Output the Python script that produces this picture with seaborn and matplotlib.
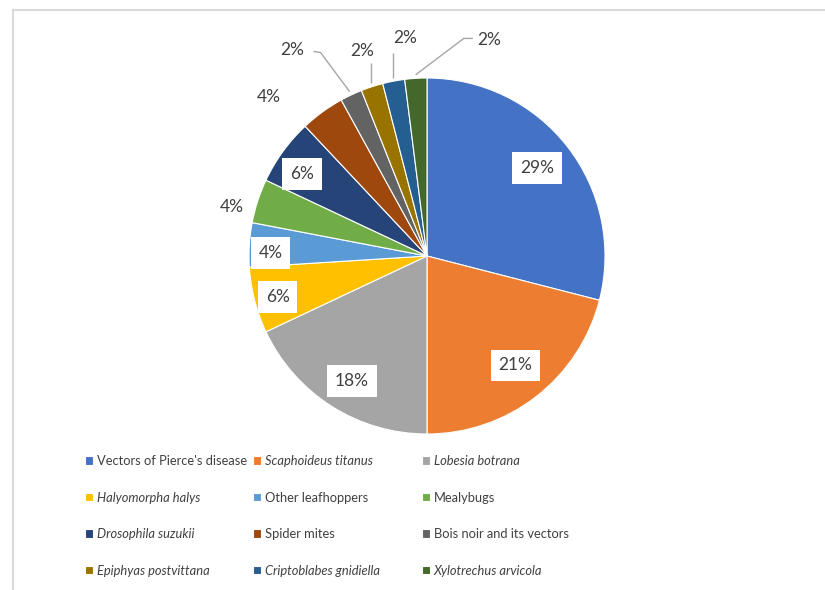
import numpy as np
import matplotlib.pyplot as plt
import seaborn as sns
from matplotlib.lines import Line2D
from matplotlib.legend import Legend

categories = ["Vectors of Pierce's disease", "Scaphoideus titanus", "Lobesia botrana",
              "Halyomorpha halys", "Other leafhoppers", "Mealybugs",
              "Drosophila suzukii", "Spider mites", "Bois noir and its vectors",
              "Epiphyas postvittana", "Criptoblabes gnidiella", "Xylotrechus arvicola"]
shares = [29, 21, 18, 6, 4, 4, 6, 4, 2, 2, 2, 2]
italic_names = [False, True, True, True, False, False, True, False, False, True, True, True]
colors = ['#4472C4', '#ED7D31', '#A5A5A5', '#FFC000', '#5B9BD5', '#70AD47',
          '#264478', '#9E480E', '#636363', '#997300', '#255E91', '#43682B']

sns.set_theme(style='white')
plt.rcParams['font.family'] = ['Lato', 'DejaVu Sans']

W, H = 825, 590
CX, CY, R = 427, 256, 178   # pie centre / radius in pixels

# label placement: (angle offset deg, radius factor, boxed)
layout = [(0.9, 0.79, True), (1.1, 0.79, True), (1.4, 0.82, True), (1.0, 0.87, True),
          (2.5, 0.88, True), (4.0, 1.13, False), (2.7, 0.84, True), (9.0, 1.26, False),
          (8.0, 1.38, False), (-0.5, 1.21, False), (-5.0, 1.23, False), (-19.6, 1.26, False)]

fig = plt.figure(figsize=(W / 100, H / 100), dpi=100)
ax = fig.add_axes([0, 0, 1, 1])
wedges, _ = ax.pie(shares, colors=sns.color_palette(colors), startangle=90, counterclock=False,
                   radius=1, wedgeprops=dict(edgecolor='white', linewidth=0.8))
ax.set_xlim(-CX / R, (W - CX) / R)
ax.set_ylim(-(H - CY) / R, CY / R)
ax.axis('off')

def polar(ang, r):
    a = np.deg2rad(ang)
    return np.array([r * np.cos(a), r * np.sin(a)])

px = 1.0 / R
lead_kw = dict(color='#a6a6a6', lw=1.0, solid_capstyle='butt')
for i, (w, v) in enumerate(zip(wedges, shares)):
    mid = (w.theta1 + w.theta2) / 2
    dang, rf, boxed = layout[i]
    tx, ty = polar(mid + dang, rf)
    kw = dict(ha='center', va='center', fontsize=12.5, color='#404040')
    if boxed:
        kw['bbox'] = dict(boxstyle='square,pad=0.45', fc='white', ec='none')
    ax.text(tx, ty, f'{v}%', **kw)
    p0 = polar(mid, 1.02)
    if i == 8:
        ax.plot([tx + 21 * px, tx + 28 * px, p0[0]], [ty - 1 * px, ty - 2 * px, p0[1]], **lead_kw)
    elif i in (9, 10):
        gap = 12 if i == 9 else 15
        ax.plot([p0[0], p0[0]], [ty - gap * px, p0[1]], **lead_kw)
    elif i == 11:
        ax.plot([tx - 16 * px, tx - 25 * px, p0[0]], [ty + 2 * px, ty + 2 * px, p0[1]], **lead_kw)

# legend: three columns, filled row by row
order_cols = [[0, 3, 6, 9], [1, 4, 7, 10], [2, 5, 8, 11]]
col_x = [85, 253, 422]
for xs, idx in zip(col_x, order_cols):
    leg = Legend(ax, [wedges[i] for i in idx], [categories[i] for i in idx], loc='upper left',
                 bbox_to_anchor=(xs / W, 1 - 455 / H), bbox_transform=fig.transFigure,
                 frameon=False, borderpad=0, borderaxespad=0, handlelength=0.62,
                 handleheight=0.62, handletextpad=0.3, labelspacing=1.9, fontsize=9.3,
                 labelcolor='#404040')
    for t, i in zip(leg.get_texts(), idx):
        if italic_names[i]:
            t.set_fontstyle('italic')
    ax.add_artist(leg)

# chart-area border (top and left edges visible)
fig.add_artist(Line2D([13 / W, 1], [1 - 10 / H, 1 - 10 / H], transform=fig.transFigure,
                      color='#d9d9d9', lw=1.5))
fig.add_artist(Line2D([13 / W, 13 / W], [0, 1 - 10 / H], transform=fig.transFigure,
                      color='#d9d9d9', lw=1.5))

fig.savefig('out.png', dpi=100)
